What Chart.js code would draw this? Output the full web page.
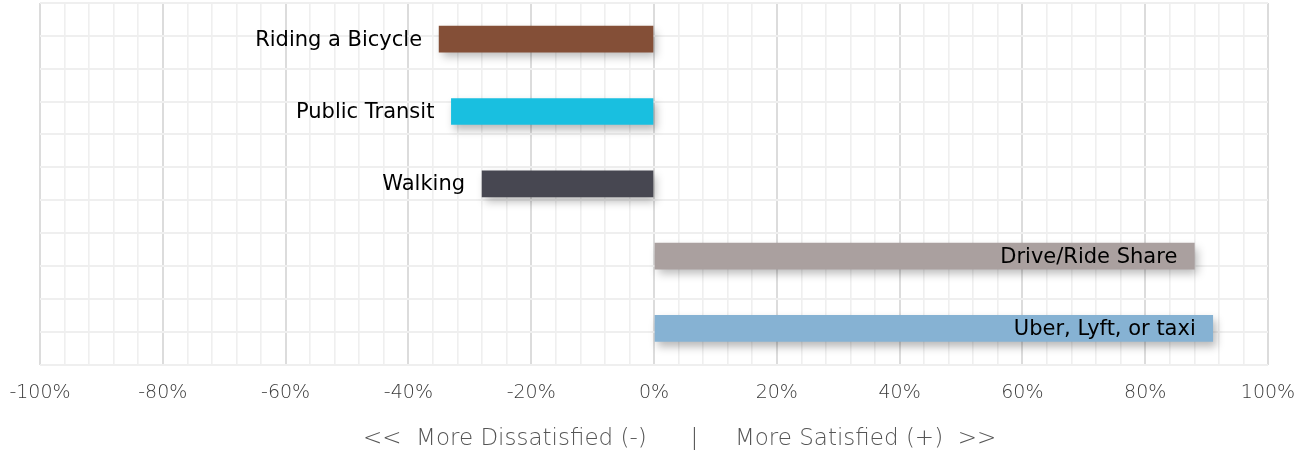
<!DOCTYPE html>
<html>
<head>
<meta charset="utf-8">
<script src="https://cdn.jsdelivr.net/npm/chart.js@4"></script>
<style>
  body { margin: 0; background: #fff; }
  #wrap { width: 1307px; height: 454px; }
</style>
</head>
<body>
<div id="wrap"><canvas id="chart"></canvas></div>
<script>
// ── Data ──────────────────────────────────────────────────────────
const modes   = ["Riding a Bicycle", "Public Transit", "Walking", "Drive/Ride Share", "Uber, Lyft, or taxi"]
const scores  = [-35, -33, -28, 88, 91]
const colors  = ["#844f37", "#19bfe0", "#474751", "#aaa09f", "#86b2d3"]
const xTicks  = [-100, -80, -60, -40, -20, 0, 20, 40, 60, 80, 100]
const axisTitle = "       <<  More Dissatisfied (-)      |     More Satisfied (+)  >>"

const FONT = "'DejaVu Sans', sans-serif"

// soft drop shadow under the bars
const barShadow = {
  id: "barShadow",
  beforeDatasetDraw(chart) {
    const c = chart.ctx
    c.save()
    c.shadowColor = "rgba(0,0,0,0.28)"
    c.shadowBlur = 9
    c.shadowOffsetX = 3
    c.shadowOffsetY = 5
  },
  afterDatasetDraw(chart) { chart.ctx.restore() }
}

// mode names: left of negative bars, inside the end of positive bars
const barLabels = {
  id: "barLabels",
  afterDatasetsDraw(chart) {
    const c = chart.ctx
    const meta = chart.getDatasetMeta(0)
    c.save()
    c.font = `21px ${FONT}`
    c.fillStyle = "#000"
    c.textAlign = "right"
    c.textBaseline = "middle"
    meta.data.forEach((el, i) => {
      const v = scores[i]
      const xPos = v < 0 ? Math.min(el.x, el.base) - 17 : el.x - 17
      c.fillText(modes[i], xPos, el.y + 1)
    })
    c.restore()
  }
}

new Chart(document.getElementById("chart"), {
  type: "bar",
  data: {
    labels: modes,
    datasets: [{
      data: scores,
      backgroundColor: colors,
      borderWidth: 0,
      barThickness: 26,
    }]
  },
  options: {
    indexAxis: "y",
    responsive: true,
    maintainAspectRatio: false,
    animation: false,
    layout: { padding: { left: 0, right: 0, top: 3, bottom: 1 } },
    plugins: {
      legend: { display: false },
      tooltip: { enabled: false }
    },
    scales: {
      x: {
        type: "linear",
        min: -100,
        max: 100,
        border: { display: false },
        afterFit: s => { s.paddingLeft = 40; s.paddingRight = 39 },
        grid: {
          drawTicks: false,
          color: ctx => (ctx.tick && ctx.tick.value % 20 === 0) ? "#dcdcdc" : "#efefef",
          lineWidth: ctx => (ctx.tick && ctx.tick.value % 20 === 0) ? 2 : 1.6,
        },
        ticks: {
          stepSize: 4,
          autoSkip: false,
          maxRotation: 0,
          padding: 17,
          color: "#3a3a3a",
          font: { family: FONT, size: 19, weight: "200" },
          callback: v => xTicks.includes(v) ? v + "%" : ""
        },
        title: {
          display: true,
          text: axisTitle,
          color: "#555",
          font: { family: FONT, size: 23, weight: "200" },
          padding: { top: 4, bottom: 0 }
        }
      },
      y: {
        type: "category",
        display: false,
        offset: true,
      },
      yGrid: {
        type: "linear",
        position: "left",
        min: -0.5,
        max: 4.5,
        reverse: true,
        border: { display: false },
        grid: { drawTicks: false, color: "#efefef", lineWidth: 2 },
        ticks: { display: false, stepSize: 0.5 }
      }
    }
  },
  plugins: [barShadow, barLabels]
})
</script>
</body>
</html>
